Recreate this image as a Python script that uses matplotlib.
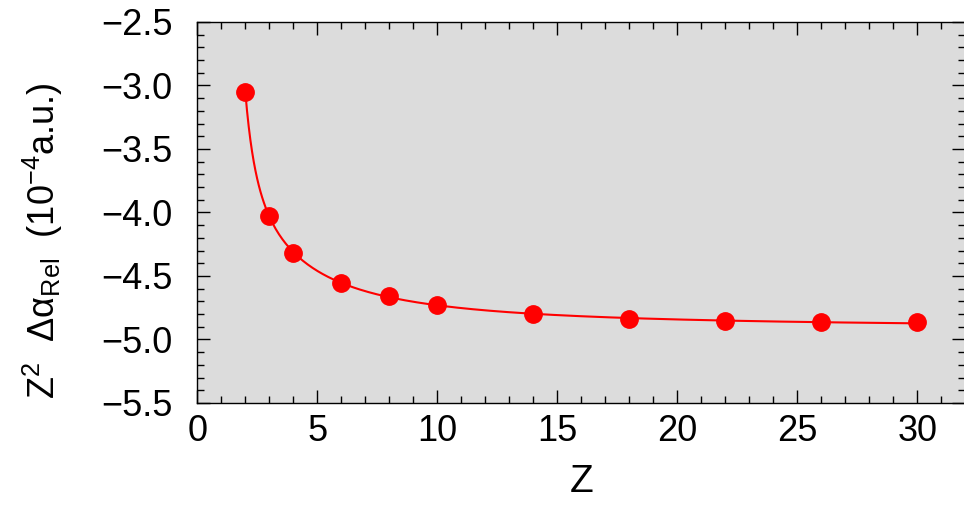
import numpy as np
import matplotlib
matplotlib.use("Agg")
import matplotlib.pyplot as plt
from matplotlib.ticker import MultipleLocator

plt.rcParams["font.family"] = ["Liberation Sans", "DejaVu Sans"]
plt.rcParams["mathtext.fontset"] = "custom"
plt.rcParams["mathtext.rm"] = "Liberation Sans"
plt.rcParams["mathtext.it"] = "Liberation Sans"
plt.rcParams["mathtext.default"] = "regular"

# data
Z = [2, 3, 4, 6, 8, 10, 14, 18, 22, 26, 30]
delta_alpha = [-3.052, -4.029, -4.317, -4.553, -4.660, -4.730,
               -4.800, -4.840, -4.855, -4.862, -4.865]

x_ticks = [0, 5, 10, 15, 20, 25, 30]
y_ticks = [-5.5, -5.0, -4.5, -4.0, -3.5, -3.0, -2.5]

# smooth fit curve in 1/Z
z_arr = np.array(Z, dtype=float)
coef = np.polyfit(1.0 / z_arr, np.array(delta_alpha), 4)
z_fine = np.linspace(min(Z), max(Z), 400)
fit = np.polyval(coef, 1.0 / z_fine)

fig = plt.figure(figsize=(9.64, 5.08), dpi=100)
ax = fig.add_axes([0.2047, 0.2067, 0.7966, 0.75])
ax.set_facecolor("#dcdcdc")

ax.plot(z_fine, fit, color="#ff0000", lw=1.5, zorder=2)
ax.plot(Z, delta_alpha, "o", color="#ff0000", ms=12.5, zorder=3)

ax.set_xlim(0, 32)
ax.set_ylim(-5.5, -2.5)
ax.set_xticks(x_ticks)
ax.set_yticks(y_ticks)
ax.xaxis.set_minor_locator(MultipleLocator(1))
ax.yaxis.set_minor_locator(MultipleLocator(0.1))
ax.tick_params(which="both", direction="in", top=True, right=True,
               labelsize=26, width=1.0)
ax.tick_params(axis="x", which="major", pad=8)
ax.tick_params(axis="y", which="major", pad=18)
ax.tick_params(which="major", length=9.5)
ax.tick_params(which="minor", length=5)
for s in ax.spines.values():
    s.set_linewidth(1.0)

ax.set_xlabel("Z", fontsize=28)
ax.set_ylabel(r"Z$^2$  $\Delta\alpha_{Rel}$  (10$^{-4}$a.u.)", fontsize=26)
ax.xaxis.set_label_coords(0.501, -0.16)
ax.yaxis.set_label_coords(-0.172, 0.425)

fig.savefig("out.png", dpi=100)
